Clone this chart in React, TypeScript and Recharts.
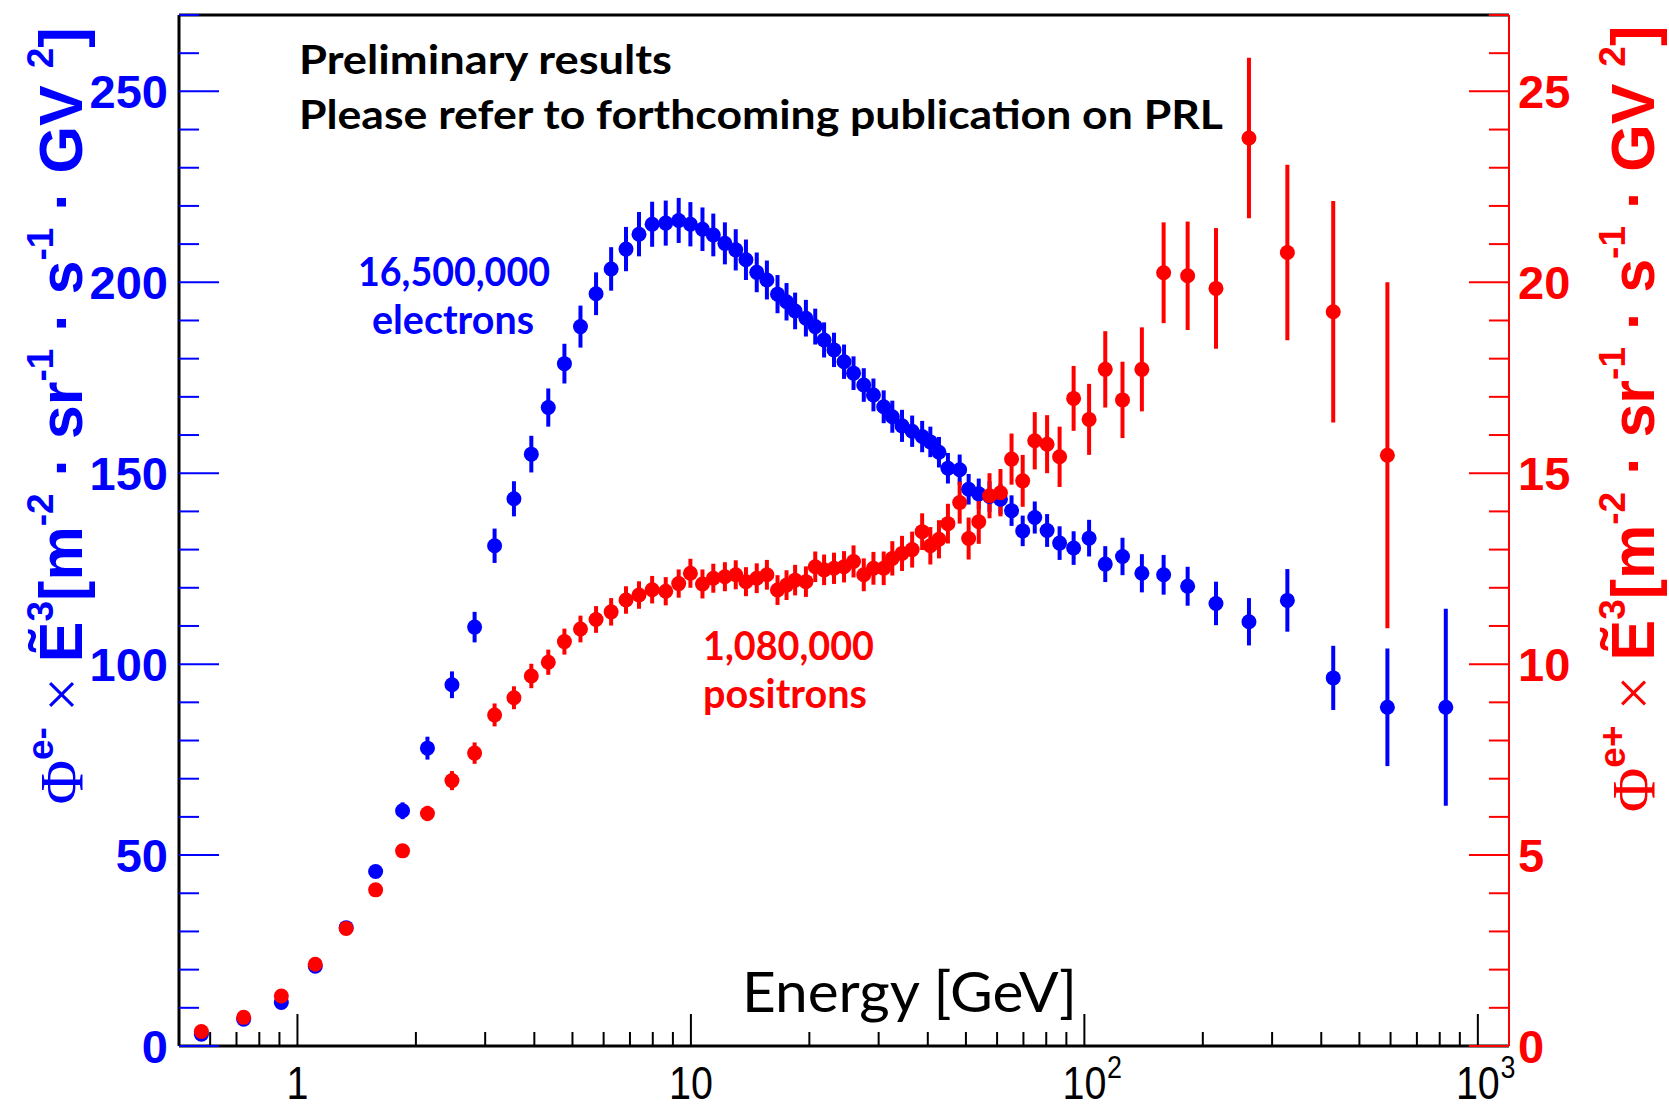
import React from "react";
import { ScatterChart, Scatter, XAxis, YAxis, ErrorBar, ReferenceLine } from "recharts";

const W = 1669;
const H = 1110;
const BLUE = "#0000ff";
const RED = "#ff0000";

// electrons (left axis)
const electronEnergy = [
  0.57, 0.73, 0.91, 1.11, 1.33, 1.58, 1.85, 2.14, 2.47, 2.82, 3.17, 3.55, 3.93, 4.34, 4.77, 5.24, 5.74, 6.27,
  6.84, 7.38, 7.97, 8.63, 9.31, 9.97, 10.7, 11.4, 12.2, 13.0, 13.8, 14.7, 15.6, 16.6, 17.5, 18.4, 19.6, 20.7,
  21.8, 23.1, 24.5, 25.9, 27.5, 29.1, 30.9, 32.5, 34.4, 36.5, 38.7, 40.6, 42.7, 45.0, 48.2, 50.8, 53.9, 57.4,
  61.2, 65.3, 69.7, 74.8, 80.4, 86.5, 93.9, 102.8, 113, 125, 140, 159, 183, 216, 262, 328, 429, 589, 829,
];
const electronFlux = [
  3.1, 7.0, 11.4, 20.9, 31.0, 45.7, 61.6, 78.0, 94.6, 109.7, 131.0, 143.3, 155.0, 167.2, 178.7, 188.4, 197.0, 203.5,
  208.7, 212.6, 215.2, 215.5, 216.2, 215.2, 213.9, 212.4, 210.2, 208.5, 205.9, 202.6, 200.6, 196.9, 194.9, 192.5, 190.6, 188.4,
  184.9, 182.3, 179.2, 176.2, 173.1, 170.5, 167.4, 164.8, 162.4, 161.0, 159.6, 158.2, 155.5, 151.3, 150.9, 145.8, 144.6, 143.9,
  143.2, 140.2, 134.9, 138.4, 135.0, 131.7, 130.4, 133.0, 126.2, 128.2, 123.8, 123.4, 120.4, 115.9, 111.1, 116.7, 96.4, 88.7, 88.7,
];
const electronErr = [
  0.3, 0.3, 0.4, 0.5, 0.6, 0.8, 2.2, 3.0, 3.5, 4.0, 4.5, 4.6, 4.8, 5.0, 5.2, 5.5, 5.6, 5.7,
  5.8, 5.8, 5.9, 5.9, 5.9, 5.8, 5.7, 5.6, 5.5, 5.4, 5.3, 5.2, 5.1, 5.0, 4.9, 4.8, 4.8, 4.7,
  4.6, 4.5, 4.5, 4.4, 4.4, 4.3, 4.3, 4.2, 4.2, 4.1, 4.1, 4.0, 4.0, 4.0, 4.0, 4.0, 4.0, 4.0,
  4.0, 4.0, 4.0, 4.2, 4.3, 4.4, 4.4, 4.8, 4.7, 4.9, 5.0, 5.2, 5.1, 5.7, 6.2, 8.2, 8.4, 15.4, 25.8,
];

// positrons (right axis)
const positronEnergy = [
  0.57, 0.73, 0.91, 1.11, 1.33, 1.58, 1.85, 2.14, 2.47, 2.82, 3.17, 3.55, 3.93, 4.34, 4.77, 5.24, 5.74, 6.27,
  6.84, 7.38, 7.97, 8.63, 9.31, 9.97, 10.7, 11.4, 12.2, 13.0, 13.8, 14.7, 15.6, 16.6, 17.5, 18.4, 19.6, 20.7,
  21.8, 23.1, 24.5, 25.9, 27.5, 29.1, 30.9, 32.5, 34.4, 36.5, 38.7, 40.6, 42.7, 45.0, 48.2, 50.8, 53.9, 57.4,
  61.2, 65.3, 69.7, 74.8, 80.4, 86.5, 93.9, 102.8, 113, 125, 140, 159, 183, 216, 262, 328, 429, 589,
];
const positronFlux = [
  0.38, 0.75, 1.31, 2.14, 3.08, 4.09, 5.11, 6.09, 6.95, 7.67, 8.67, 9.12, 9.69, 10.05, 10.59, 10.92, 11.17, 11.37,
  11.68, 11.81, 11.95, 11.91, 12.11, 12.38, 12.1, 12.25, 12.29, 12.34, 12.16, 12.25, 12.34, 11.94, 12.07, 12.2, 12.16, 12.55,
  12.47, 12.51, 12.55, 12.69, 12.34, 12.51, 12.51, 12.77, 12.9, 13.0, 13.47, 13.1, 13.27, 13.68, 14.23, 13.29, 13.73, 14.41,
  14.49, 15.37, 14.8, 15.85, 15.76, 15.43, 16.96, 16.41, 17.72, 16.92, 17.72, 20.25, 20.17, 19.84, 23.78, 20.78, 19.23, 15.47,
];
const positronErr = [
  0.03, 0.04, 0.05, 0.06, 0.08, 0.1, 0.13, 0.2, 0.25, 0.28, 0.3, 0.3, 0.32, 0.33, 0.34, 0.35, 0.35, 0.36,
  0.36, 0.36, 0.36, 0.37, 0.37, 0.38, 0.38, 0.38, 0.38, 0.38, 0.38, 0.39, 0.39, 0.39, 0.39, 0.4, 0.4, 0.4,
  0.4, 0.41, 0.41, 0.42, 0.43, 0.43, 0.44, 0.45, 0.46, 0.47, 0.48, 0.49, 0.5, 0.52, 0.55, 0.55, 0.58, 0.59,
  0.62, 0.67, 0.68, 0.75, 0.76, 0.79, 0.85, 0.93, 1.0, 1.0, 1.1, 1.32, 1.42, 1.58, 2.1, 2.3, 2.9, 4.53,
];

const xTicks = [0.6, 0.7, 0.8, 0.9, 1, 2, 3, 4, 5, 6, 7, 8, 9, 10, 20, 30, 40, 50, 60, 70, 80, 90, 100, 200, 300, 400, 500, 600, 700, 800, 900, 1000];
const xMajor = [1, 10, 100, 1000];
const xLabelBase = ["1", "10", "10", "10"];
const xLabelSup = ["", "", "2", "3"];
const yTicksLeft = [0, 10, 20, 30, 40, 50, 60, 70, 80, 90, 100, 110, 120, 130, 140, 150, 160, 170, 180, 190, 200, 210, 220, 230, 240, 250, 260, 270];
const yTicksRight = [0, 1, 2, 3, 4, 5, 6, 7, 8, 9, 10, 11, 12, 13, 14, 15, 16, 17, 18, 19, 20, 21, 22, 23, 24, 25, 26, 27];

const electronData = electronEnergy.map((e, i) => ({ energy: e, flux: electronFlux[i], err: electronErr[i] }));
const positronData = positronEnergy.map((e, i) => ({ energy: e, flux: positronFlux[i], err: positronErr[i] }));

const SANS = "'Liberation Sans', Arial, Helvetica, sans-serif";
const SERIF = "'Liberation Serif', 'Times New Roman', serif";
const CAL = "Lato, 'Open Sans', sans-serif";

function XTick(props: any) {
  const { x, y, payload } = props;
  const i = xMajor.indexOf(payload.value);
  const len = i >= 0 ? 32 : 14;
  return (
    <g>
      <line x1={x} x2={x} y1={y} y2={y - len} stroke="#000" strokeWidth={2} />
      {i >= 0 && (
        <g transform={`translate(${x},${y + 53}) scale(0.84,1)`}>
          <text x={0} y={0} textAnchor="middle" fontFamily={SANS} fontSize={47} fill="#000">
            {xLabelBase[i]}
          </text>
          {xLabelSup[i] && (
            <text x={27} y={-21} textAnchor="start" fontFamily={SANS} fontSize={32} fill="#000">
              {xLabelSup[i]}
            </text>
          )}
        </g>
      )}
    </g>
  );
}

function LeftTick(props: any) {
  const { x, y, payload } = props;
  const major = payload.value % 50 === 0;
  return (
    <g>
      <line x1={x} x2={x + (major ? 40 : 20)} y1={y} y2={y} stroke={BLUE} strokeWidth={2} />
      {major && (
        <text x={x - 11} y={y + 17} textAnchor="end" fontFamily={SANS} fontWeight="bold" fontSize={47} fill={BLUE}>
          {payload.value}
        </text>
      )}
    </g>
  );
}

function RightTick(props: any) {
  const { x, y, payload } = props;
  const major = payload.value % 5 === 0;
  return (
    <g>
      <line x1={x} x2={x - (major ? 40 : 20)} y1={y} y2={y} stroke={RED} strokeWidth={2} />
      {major && (
        <text x={x + 9} y={y + 17} textAnchor="start" fontFamily={SANS} fontWeight="bold" fontSize={47} fill={RED}>
          {payload.value}
        </text>
      )}
    </g>
  );
}

const dot = (color: string) => (p: any) => <circle cx={p.cx} cy={p.cy} r={7.5} fill={color} />;

// pieces of the rotated axis title
function AxisTitle({ x, y, color, charge }: { x: number; y: number; color: string; charge: string }) {
  const F = 61;
  const S = 37;
  const R = 29;
  return (
    <text transform={`translate(${x},${y}) rotate(-90)`} textAnchor="middle" fontFamily={SANS} fontWeight="bold" fontSize={F} fill={color}>
      <tspan fontFamily={SERIF} fontWeight="normal">Φ</tspan>
      <tspan fontSize={S} dy={-R}>{"e" + charge}</tspan>
      <tspan fontFamily={SERIF} fontWeight="normal" dy={R}>{" × "}</tspan>
      <tspan>Ẽ</tspan>
      <tspan fontSize={S} dy={-R}>3</tspan>
      <tspan dy={R}>[m</tspan>
      <tspan fontSize={S} dy={-R}>-2</tspan>
      <tspan dy={R}>{" · sr"}</tspan>
      <tspan fontSize={S} dy={-R}>-1</tspan>
      <tspan dy={R}>{" · s"}</tspan>
      <tspan fontSize={S} dy={-R}>-1</tspan>
      <tspan dy={R}>{" · GV "}</tspan>
      <tspan fontSize={S} dy={-R}>2</tspan>
      <tspan dy={R}>]</tspan>
    </text>
  );
}

export default function App() {
  return (
    <div style={{ position: "absolute", left: 0, top: 0, width: W, height: H, background: "#fff" }}>
      <ScatterChart width={W} height={H} margin={{ top: 15, right: 0, bottom: 0, left: 0 }}>
        <XAxis
          type="number"
          dataKey="energy"
          scale="log"
          domain={[0.5, 1200]}
          allowDataOverflow
          ticks={xTicks}
          interval={0}
          height={64}
          tickSize={0}
          tickMargin={0}
          tickLine={false}
          axisLine={{ stroke: "#000", strokeWidth: 3 }}
          tick={(p: any) => <XTick {...p} />}
        />
        <YAxis
          yAxisId="e"
          type="number"
          dataKey="flux"
          domain={[0, 270]}
          allowDataOverflow
          ticks={yTicksLeft}
          interval={0}
          width={179}
          tickSize={0}
          tickMargin={0}
          tickLine={false}
          axisLine={{ stroke: "#000", strokeWidth: 3 }}
          tick={(p: any) => <LeftTick {...p} />}
        />
        <YAxis
          yAxisId="p"
          orientation="right"
          type="number"
          dataKey="flux"
          domain={[0, 27]}
          allowDataOverflow
          ticks={yTicksRight}
          interval={0}
          width={160}
          tickSize={0}
          tickMargin={0}
          tickLine={false}
          axisLine={{ stroke: RED, strokeWidth: 2 }}
          tick={(p: any) => <RightTick {...p} />}
        />
        <ReferenceLine yAxisId="e" y={270} stroke="#000" strokeWidth={3} ifOverflow="visible" />
        <Scatter yAxisId="e" data={electronData} fill={BLUE} shape={dot(BLUE)} isAnimationActive={false}>
          <ErrorBar dataKey="err" direction="y" width={0} strokeWidth={4} stroke={BLUE} />
        </Scatter>
        <Scatter yAxisId="p" data={positronData} fill={RED} shape={dot(RED)} isAnimationActive={false}>
          <ErrorBar dataKey="err" direction="y" width={0} strokeWidth={4} stroke={RED} />
        </Scatter>
      </ScatterChart>
      <svg width={W} height={H} style={{ position: "absolute", left: 0, top: 0, pointerEvents: "none" }}>
        <AxisTitle x={82} y={416} color={BLUE} charge="-" />
        <AxisTitle x={1654} y={419} color={RED} charge="+" />
        <text x={299} y={74} fontFamily={CAL} fontWeight="bold" fontSize={41} textLength={373} lengthAdjust="spacingAndGlyphs" fill="#000">
          Preliminary results
        </text>
        <text x={299} y={129} fontFamily={CAL} fontWeight="bold" fontSize={41} textLength={924} lengthAdjust="spacingAndGlyphs" fill="#000">
          Please refer to forthcoming publication on PRL
        </text>
        <text x={358} y={286} fontFamily={CAL} fontWeight="bold" fontSize={41} textLength={192} lengthAdjust="spacingAndGlyphs" fill={BLUE}>
          16,500,000
        </text>
        <text x={372} y={334} fontFamily={CAL} fontWeight="bold" fontSize={41} textLength={162} lengthAdjust="spacingAndGlyphs" fill={BLUE}>
          electrons
        </text>
        <text x={703} y={660} fontFamily={CAL} fontWeight="bold" fontSize={41} textLength={171} lengthAdjust="spacingAndGlyphs" fill={RED}>
          1,080,000
        </text>
        <text x={703} y={708} fontFamily={CAL} fontWeight="bold" fontSize={41} textLength={164} lengthAdjust="spacingAndGlyphs" fill={RED}>
          positrons
        </text>
        <text x={742} y={1012} fontFamily={CAL} fontSize={56} textLength={335} lengthAdjust="spacingAndGlyphs" fill="#000">
          Energy [GeV]
        </text>
      </svg>
    </div>
  );
}
